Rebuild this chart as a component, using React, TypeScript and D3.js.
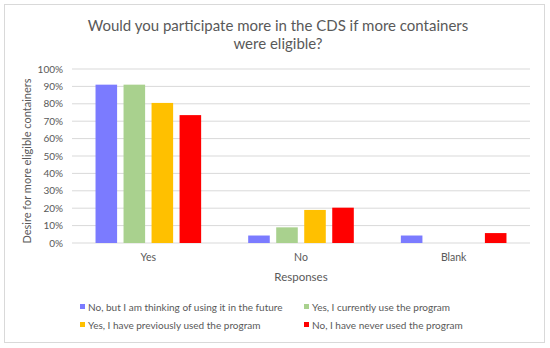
import React from "react";
import * as d3 from "d3";

const categories = ["Yes", "No", "Blank"];
const seriesNames = [
  "No, but I am thinking of using it in the future",
  "Yes, I currently use the program",
  "Yes, I have previously used the program",
  "No, I have never used the program",
];
const seriesColors = ["#7b7bff", "#a9d18e", "#ffc000", "#ff0000"];
const thinkingValues = [0.91, 0.043, 0.043];
const currentValues = [0.91, 0.09, 0];
const previousValues = [0.805, 0.19, 0];
const neverValues = [0.735, 0.203, 0.057];
const yTicks = [0, 0.1, 0.2, 0.3, 0.4, 0.5, 0.6, 0.7, 0.8, 0.9, 1.0];

const W = 550;
const H = 348;
const FONT = "Lato, 'Open Sans', sans-serif";
const TXT = "#595959";

export default function App() {
  const series = [thinkingValues, currentValues, previousValues, neverValues];
  const left = 72, right = 530, top = 69, bottom = 243;
  const x = d3.scaleBand<string>().domain(categories).range([left, right]).paddingInner(0).paddingOuter(0);
  const y = d3.scaleLinear().domain([0, 1]).range([bottom, top]);
  const bw = x.bandwidth();
  const step = bw * 0.1835;
  const barW = step * 0.77;
  const groupW = step * 3 + barW;
  const fmt = d3.format(".0%");

  return (
    <svg width={W} height={H} style={{ position: "absolute", left: 0, top: 0, display: "block" }}>
      <rect x={0} y={0} width={W} height={H} fill="#ffffff" />
      <rect x={4.5} y={4.5} width={540} height={338} fill="#ffffff" stroke="#d9d9d9" strokeWidth={1} />
      <text x={278} y={30.5} textAnchor="middle" fontFamily={FONT} fontSize={15} fill={TXT}>
        Would you participate more in the CDS if more containers
      </text>
      <text x={278} y={48.5} textAnchor="middle" fontFamily={FONT} fontSize={15} fill={TXT}>
        were eligible?
      </text>
      {yTicks.map((t) => (
        <g key={t}>
          <line x1={left} x2={right} y1={y(t)} y2={y(t)} stroke="#d9d9d9" strokeWidth={1} />
          <text x={63} y={y(t) + 3.5} textAnchor="end" fontFamily={FONT} fontSize={10} fill={TXT}>
            {fmt(t)}
          </text>
        </g>
      ))}
      {categories.map((c, ci) => {
        const x0 = (x(c) as number) + (bw - groupW) / 2;
        return (
          <g key={c}>
            {series.map((vals, si) =>
              vals[ci] > 0 ? (
                <rect
                  key={si}
                  x={x0 + si * step}
                  y={y(vals[ci])}
                  width={barW}
                  height={y(0) - y(vals[ci])}
                  fill={seriesColors[si]}
                />
              ) : null
            )}
            <text x={(x(c) as number) + bw / 2} y={261} textAnchor="middle" fontFamily={FONT} fontSize={10.5} fill={TXT}>
              {c}
            </text>
          </g>
        );
      })}
      <text x={(left + right) / 2} y={281} textAnchor="middle" fontFamily={FONT} fontSize={11.5} fill={TXT}>
        Responses
      </text>
      <text
        transform={`translate(31,161) rotate(-90)`}
        textAnchor="middle"
        fontFamily={FONT}
        fontSize={11}
        fill={TXT}
      >
        Desire for more eligible containers
      </text>
      {seriesNames.map((n, i) => {
        const col = i % 2;
        const row = Math.floor(i / 2);
        const lx = col === 0 ? 80 : 304;
        const ly = row === 0 ? 307 : 325;
        return (
          <g key={n}>
            <rect x={lx} y={ly - 3} width={5} height={5} fill={seriesColors[i]} />
            <text x={lx + 8} y={ly + 3.5} fontFamily={FONT} fontSize={10} fill={TXT}>
              {n}
            </text>
          </g>
        );
      })}
    </svg>
  );
}
